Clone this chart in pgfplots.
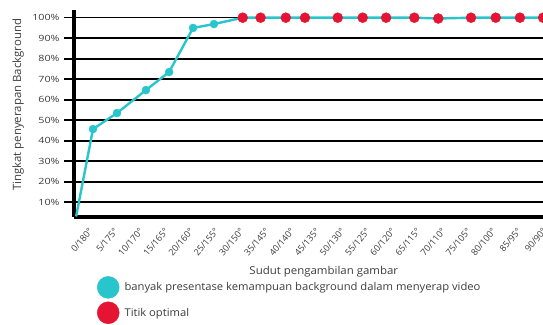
\documentclass[border=0pt]{standalone}
\usepackage{pgfplots}
\pgfplotsset{compat=1.18}
\usepackage{fontspec}
\setmainfont{Open Sans}
\definecolor{tealc}{RGB}{40,198,204}
\definecolor{redc}{RGB}{228,20,50}
\definecolor{txt}{RGB}{60,60,60}
\begin{document}
\begin{tikzpicture}
\path[use as bounding box] (0,0) rectangle (543pt,324pt);
\begin{axis}[
  at={(74pt,107.5pt)}, anchor=south west,
  scale only axis, width=486pt, height=206.5pt,
  xmin=-0.754, xmax=18.53, ymin=3.07, ymax=103.75,
  axis x line=bottom, axis y line=left,
  axis line style={-, line width=4pt, black},
  ytick={10,20,...,100},
  yticklabel={\pgfmathprintnumber{\tick}\%},
  ymajorgrids, major grid style={black, line width=1.6pt},
  ytick style={black, line width=1.6pt},
  tick align=outside, major tick length=10pt,
  xtick={0,1,...,18},
  xticklabels={0/180°,5/175°,10/170°,15/165°,20/160°,25/155°,30/150°,35/145°,40/140°,45/135°,50/130°,55/125°,60/120°,65/115°,70/110°,75/105°,80/100°,85/95°,90/90°},
  xtick style={draw=none},
  xticklabel style={rotate=50, anchor=east, font=\fontsize{9}{10}\selectfont, text=txt},
  yticklabel style={font=\fontsize{8.6}{9}\selectfont, xscale=1.25, text=txt},
  /pgf/number format/assume math mode=true,
  xlabel={Sudut pengambilan gambar},
  xlabel style={at={(axis description cs:0.514,-0.269)}, anchor=center, xscale=1.06, font=\fontsize{10.8}{12}\selectfont, text=txt},
  ylabel={Tingkat penyerapan Background},
  ylabel style={at={(axis description cs:-0.115,0.54)}, anchor=center, font=\fontsize{11.4}{12}\selectfont, text=txt},
  clip=false,
  legend style={at={(axis description cs:0.047,-0.288)}, anchor=north west, draw=none, fill=none, inner sep=0pt, row sep=3pt, column sep=3pt, font=\fontsize{10.7}{12}\selectfont, text=txt},
  legend cell align=left,
  legend style={nodes={xscale=1.05}},
]
% teal line through all points
\addplot[tealc, line width=2.4pt, forget plot] coordinates {
 (-0.67,3.07) (0,45.7) (0.95,53.5) (2.10,64.7) (3.02,73.5) (3.97,95.0) (4.80,96.9)
 (5.94,100) (6.65,100) (7.65,100) (8.41,100) (9.71,100) (10.70,100) (11.63,100)
 (12.75,100) (13.70,99.6) (15.00,100) (15.98,100) (16.94,100) (17.86,100)};
% teal markers
\addplot[only marks, mark=*, mark size=4pt, color=tealc,
  legend image code/.code={\fill[tealc] (11pt,0pt) circle (11pt);}] coordinates {
 (0,45.7) (0.95,53.5) (2.10,64.7) (3.02,73.5) (3.97,95.0) (4.80,96.9)};
\addlegendentry{banyak presentase kemampuan background dalam menyerap video}
% red optimal points
\addplot[only marks, mark=*, mark size=5pt, color=redc,
  legend image code/.code={\fill[redc] (11pt,0pt) circle (11pt);}] coordinates {
 (5.94,100) (6.65,100) (7.65,100) (8.41,100) (9.71,100) (10.70,100) (11.63,100)
 (12.75,100) (13.70,99.6) (15.00,100) (15.98,100) (16.94,100) (17.86,100)};
\addlegendentry{Titik optimal}
\end{axis}
\end{tikzpicture}
\end{document}
